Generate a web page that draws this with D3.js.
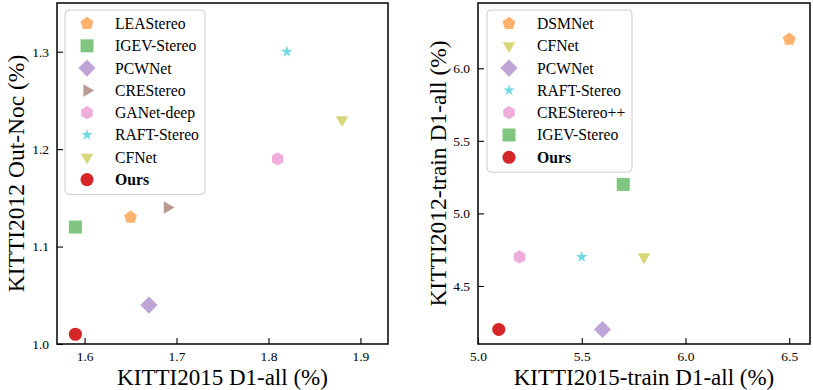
<!DOCTYPE html>
<html>
<head>
	<script src="https://cdn.jsdelivr.net/npm/d3@7"></script>
	<style>
		body { margin: 0; background: #fff; }
		svg text { font-family: "Liberation Serif", "DejaVu Serif", serif; fill: #000; }
	</style>
</head>
<body>
	<div id="chart"></div>
	<script>
		// left panel: KITTI2015 test vs KITTI2012 test
		var leftNames = ["LEAStereo", "IGEV-Stereo", "PCWNet", "CREStereo", "GANet-deep", "RAFT-Stereo", "CFNet", "Ours"];
		var leftX = [1.65, 1.59, 1.67, 1.69, 1.81, 1.82, 1.88, 1.59];
		var leftY = [1.13, 1.12, 1.04, 1.14, 1.19, 1.30, 1.23, 1.01];
		var leftXTicks = [1.6, 1.7, 1.8, 1.9];
		var leftYTicks = [1.0, 1.1, 1.2, 1.3];

		// right panel: train sets
		var rightNames = ["DSMNet", "CFNet", "PCWNet", "RAFT-Stereo", "CREStereo++", "IGEV-Stereo", "Ours"];
		var rightX = [6.5, 5.8, 5.6, 5.5, 5.2, 5.7, 5.1];
		var rightY = [6.2, 4.7, 4.2, 4.7, 4.7, 5.2, 4.2];
		var rightXTicks = [5.0, 5.5, 6.0, 6.5];
		var rightYTicks = [4.5, 5.0, 5.5, 6.0];

		// marker style per method
		var style = {
			"LEAStereo":   {shape: "pentagon", color: "#ff7f0e"},
			"DSMNet":      {shape: "pentagon", color: "#ff7f0e"},
			"IGEV-Stereo": {shape: "square",   color: "#2ca02c"},
			"PCWNet":      {shape: "diamond",  color: "#9467bd"},
			"CREStereo":   {shape: "tri_right", color: "#8c564b"},
			"GANet-deep":  {shape: "hexagon",  color: "#e377c2"},
			"CREStereo++": {shape: "hexagon",  color: "#e377c2"},
			"RAFT-Stereo": {shape: "star",     color: "#17becf"},
			"CFNet":       {shape: "tri_down", color: "#bcbd22"},
			"Ours":        {shape: "circle",   color: "#d62728"}
		};

		function polygon(n, r, rot) {
			var pts = [];
			for (var i = 0; i < n; i++) {
				var a = rot + i * 2 * Math.PI / n;
				pts.push([r * Math.sin(a), -r * Math.cos(a)]);
			}
			return "M" + pts.map(function(p) { return p[0].toFixed(2) + "," + p[1].toFixed(2); }).join("L") + "Z";
		}

		function markerPath(shape) {
			switch (shape) {
				case "pentagon": return polygon(5, 6.8, 0);
				case "hexagon": return polygon(6, 6.6, 0);
				case "square": return "M-6.5,-6.5H6.5V6.5H-6.5Z";
				case "diamond": return polygon(4, 8.6, 0);
				case "tri_right": return polygon(3, 7.2, Math.PI / 2);
				case "tri_down": return polygon(3, 7.2, Math.PI);
				case "star": return d3.symbol().type(d3.symbolStar).size(42)();
				case "circle": return d3.symbol().type(d3.symbolCircle).size(135)();
			}
		}

		var W = 813, H = 390;
		var svg = d3.select("#chart").append("svg")
			.attr("width", W)
			.attr("height", H);

		function panel(opt) {
			var x = d3.scaleLinear().domain(opt.xDomain).range([opt.left, opt.right]);
			var y = d3.scaleLinear().domain(opt.yDomain).range([opt.bottom, opt.top]);
			var g = svg.append("g");

			var xAxis = g.append("g")
				.attr("transform", "translate(0," + opt.bottom + ")")
				.call(d3.axisBottom(x).tickValues(opt.xTicks).tickSizeInner(-6).tickSizeOuter(0).tickPadding(7.5).tickFormat(d3.format(".1f")));
			var yAxis = g.append("g")
				.attr("transform", "translate(" + opt.left + ",0)")
				.call(d3.axisLeft(y).tickValues(opt.yTicks).tickSizeInner(-6).tickSizeOuter(0).tickPadding(8).tickFormat(d3.format(".1f")));
			[xAxis, yAxis].forEach(function(a) {
				a.select(".domain").remove();
				a.selectAll(".tick line").attr("stroke", "#000").attr("stroke-width", 1.1);
				a.selectAll(".tick text").style("font-size", "13.5px");
			});

			// frame
			g.append("rect")
				.attr("x", opt.left).attr("y", opt.top)
				.attr("width", opt.right - opt.left).attr("height", opt.bottom - opt.top)
				.attr("fill", "none").attr("stroke", "#000").attr("stroke-width", 1.5);

			// legend
			var lg = g.append("g");
			lg.append("rect")
				.attr("x", opt.legX).attr("y", opt.legY)
				.attr("width", opt.legW).attr("height", opt.names.length * 22.3 + 6)
				.attr("rx", 4)
				.attr("fill", "#fff").attr("fill-opacity", 0.8)
				.attr("stroke", "#ccc").attr("stroke-width", 1);
			opt.names.forEach(function(name, i) {
				var cy = opt.legY + 13.5 + i * 22.3;
				lg.append("path")
					.attr("d", markerPath(style[name].shape))
					.attr("transform", "translate(" + (opt.legX + 22) + "," + cy + ")")
					.attr("fill", style[name].color)
					.attr("fill-opacity", name === "Ours" ? 1 : 0.6);
				lg.append("text")
					.attr("x", opt.legX + 50).attr("y", cy)
					.attr("dy", "0.35em")
					.style("font-size", "15.7px")
					.style("font-weight", name === "Ours" ? "bold" : "normal")
					.text(name);
			});

			// points
			g.selectAll(".pt")
				.data(opt.names)
				.enter().append("path")
				.attr("class", "pt")
				.attr("d", function(d) { return markerPath(style[d].shape); })
				.attr("transform", function(d, i) { return "translate(" + x(opt.xs[i]) + "," + y(opt.ys[i]) + ")"; })
				.attr("fill", function(d) { return style[d].color; })
				.attr("fill-opacity", function(d) { return d === "Ours" ? 1 : 0.6; });

			// axis labels
			g.append("text")
				.attr("x", (opt.left + opt.right) / 2).attr("y", 385)
				.attr("text-anchor", "middle")
				.style("font-size", "23px")
				.text(opt.xLabel);
			g.append("text")
				.attr("transform", "translate(" + opt.yLabelX + "," + (opt.top + opt.bottom) / 2 + ") rotate(-90)")
				.attr("text-anchor", "middle")
				.style("font-size", "23.5px")
				.text(opt.yLabel);
		}

		panel({
			names: leftNames, xs: leftX, ys: leftY,
			xDomain: [1.57, 1.93], yDomain: [1.0, 1.35],
			xTicks: leftXTicks, yTicks: leftYTicks,
			left: 57, right: 388, top: 3, bottom: 344,
			legX: 65, legY: 10, legW: 140,
			xLabel: "KITTI2015 D1-all (%)", yLabel: "KITTI2012 Out-Noc (%)", yLabelX: 24
		});

		panel({
			names: rightNames, xs: rightX, ys: rightY,
			xDomain: [5.0, 6.6], yDomain: [4.1, 6.45],
			xTicks: rightXTicks, yTicks: rightYTicks,
			left: 478, right: 810, top: 3, bottom: 344,
			legX: 487, legY: 10, legW: 145,
			xLabel: "KITTI2015-train D1-all (%)", yLabel: "KITTI2012-train D1-all (%)", yLabelX: 446
		});
	</script>
</body>
</html>
